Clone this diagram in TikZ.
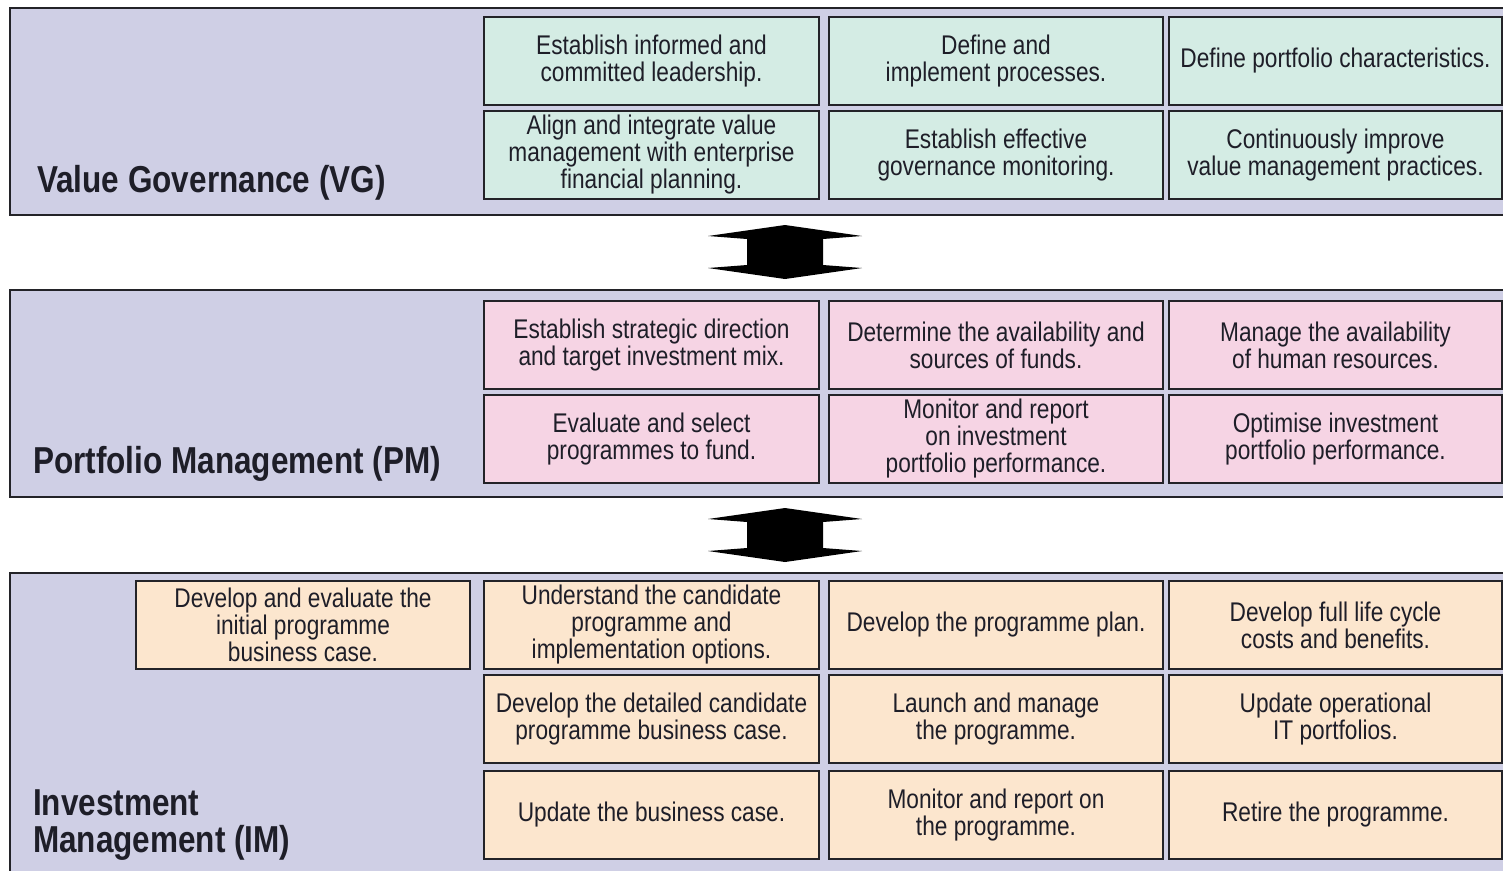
\documentclass[tikz,border=0pt]{standalone}
\usepackage{fontspec}
\usetikzlibrary{calc}
\setmainfont[FakeStretch=0.84]{Liberation Sans}
\definecolor{bandcol}{RGB}{207,207,229}
\definecolor{vgcol}{RGB}{212,236,228}
\definecolor{pmcol}{RGB}{246,212,228}
\definecolor{imcol}{RGB}{252,230,206}
\definecolor{txtcol}{RGB}{30,30,40}
\definecolor{edgecol}{RGB}{35,35,40}
\tikzset{
  band/.style={draw=edgecol, fill=bandcol, line width=1.3pt},
  cell/.style={draw=edgecol, line width=1.3pt, align=center, inner sep=0pt,
    minimum width=335pt, minimum height=88pt, text=txtcol,
    font=\fontsize{27}{27}\selectfont},
  vgcell/.style={cell, fill=vgcol},
  pmcell/.style={cell, fill=pmcol},
  imcell/.style={cell, fill=imcol},
  bandlabel/.style={anchor=base west, inner sep=0pt, text=txtcol, align=left,
    font=\fontsize{37.5}{37}\selectfont\bfseries},
  bigarrow/.style={fill=black, draw=none}
}
\begin{document}
\begin{tikzpicture}[x=1pt,y=-1pt]
\useasboundingbox (0,0) rectangle (1503,870);
\fill[white] (0,0) rectangle (1503,870);
% bands
\draw[band] (10,8) rectangle (1515,215);
\draw[band] (10,290) rectangle (1515,497);
\draw[band] (10,573) rectangle (1515,885);
% band labels
\node[bandlabel] (vglab) at (37,192) {Value Governance (VG)};
\node[bandlabel] (pmlab) at (33,473) {Portfolio Management (PM)};
\node[bandlabel] (imlab) at (33,852) {Investment\\Management (IM)};
% VG cells
\node[vgcell] (vg11) at (651.5,61) {Establish informed and\\committed leadership.};
\node[vgcell, minimum width=334pt] (vg12) at (996,61) {Define and\\implement processes.};
\node[vgcell, minimum width=333pt] (vg13) at (1335.5,61) {Define portfolio characteristics.};
\node[vgcell] (vg21) at (651.5,155) {Align and integrate value\\management with enterprise\\financial planning.};
\node[vgcell, minimum width=334pt] (vg22) at (996,155) {Establish effective\\governance monitoring.};
\node[vgcell, minimum width=333pt] (vg23) at (1335.5,155) {Continuously improve\\value management practices.};
% PM cells
\node[pmcell] (pm11) at (651.5,345) {Establish strategic direction\\and target investment mix.};
\node[pmcell, minimum width=334pt] (pm12) at (996,345) {Determine the availability and\\sources of funds.};
\node[pmcell, minimum width=333pt] (pm13) at (1335.5,345) {Manage the availability\\of human resources.};
\node[pmcell] (pm21) at (651.5,439) {Evaluate and select\\programmes to fund.};
\node[pmcell, minimum width=334pt] (pm22) at (996,439) {Monitor and report\\on investment\\portfolio performance.};
\node[pmcell, minimum width=333pt] (pm23) at (1335.5,439) {Optimise investment\\portfolio performance.};
% IM cells
\node[imcell, minimum width=334pt] (im10) at (303,625) {Develop and evaluate the\\initial programme\\business case.};
\node[imcell] (im11) at (651.5,625) {Understand the candidate\\programme and\\implementation options.};
\node[imcell, minimum width=334pt] (im12) at (996,625) {Develop the programme plan.};
\node[imcell, minimum width=333pt] (im13) at (1335.5,625) {Develop full life cycle\\costs and benefits.};
\node[imcell] (im21) at (651.5,719) {Develop the detailed candidate\\programme business case.};
\node[imcell, minimum width=334pt] (im22) at (996,719) {Launch and manage\\the programme.};
\node[imcell, minimum width=333pt] (im23) at (1335.5,719) {Update operational\\IT portfolios.};
\node[imcell] (im31) at (651.5,815) {Update the business case.};
\node[imcell, minimum width=334pt] (im32) at (996,815) {Monitor and report on\\the programme.};
\node[imcell, minimum width=333pt] (im33) at (1335.5,815) {Retire the programme.};
% double arrows
\coordinate (a1) at (785,252);
\coordinate (a2) at (785,535);
\foreach \c/\h in {a1/27, a2/27}{
  \fill[bigarrow] ($(\c)+(0,-\h)$) -- ($(\c)+(-77,-16)$) -- ($(\c)+(-38,-13)$)
    -- ($(\c)+(-38,13)$) -- ($(\c)+(-77,16)$) -- ($(\c)+(0,\h)$)
    -- ($(\c)+(77,16)$) -- ($(\c)+(38,13)$) -- ($(\c)+(38,-13)$)
    -- ($(\c)+(77,-16)$) -- cycle;
}
\end{tikzpicture}
\end{document}
